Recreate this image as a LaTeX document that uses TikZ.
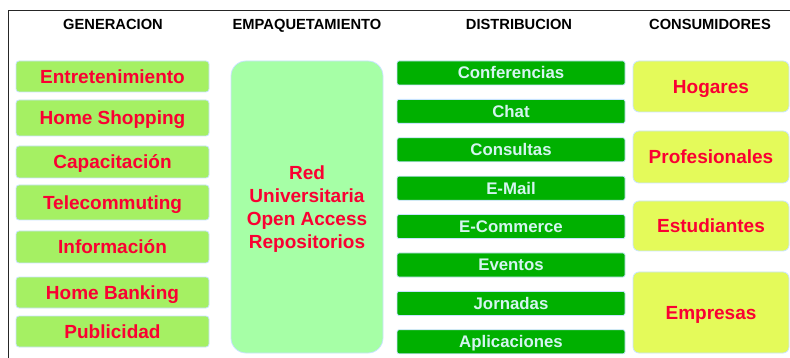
\documentclass[tikz,border=0pt]{standalone}
\usepackage{fontspec}
\setmainfont{Liberation Sans}
\usepackage{tikz}
\usetikzlibrary{positioning}

\definecolor{genfill}{RGB}{165,240,99}
\definecolor{pkgfill}{RGB}{166,255,166}
\definecolor{distfill}{RGB}{0,176,0}
\definecolor{consfill}{RGB}{228,250,90}
\definecolor{labelred}{RGB}{250,0,50}
\definecolor{distlabel}{RGB}{212,245,240}
\definecolor{edgeblue}{RGB}{200,228,255}

\tikzset{
    colhead/.style={font=\fontsize{14.7}{17}\selectfont\bfseries, text=black,
        inner sep=0pt, text height=10.5pt, text depth=0pt},
    anybox/.style={draw=edgeblue, line width=0.8pt, inner sep=0pt, align=center,
        font=\fontsize{19}{23}\selectfont\bfseries, text=labelred},
    oneline/.style={text height=13.6pt, text depth=0pt},
    genbox/.style={anybox, oneline, fill=genfill, rounded corners=3pt, minimum width=193pt},
    pkgbox/.style={anybox, fill=pkgfill, rounded corners=15pt,
        minimum width=152pt, minimum height=292pt},
    distbox/.style={anybox, fill=distfill, rounded corners=2pt, text=distlabel,
        text height=12pt, text depth=0pt,
        minimum width=228pt, minimum height=24pt, font=\fontsize{16.8}{20}\selectfont\bfseries},
    consbox/.style={anybox, oneline, fill=consfill, rounded corners=6pt, minimum width=156pt},
}

\begin{document}
\begin{tikzpicture}[x=1pt, y=-1pt]
    \useasboundingbox (0,0) rectangle (790,358);

    % frame (only top and left edges show)
    \draw[line width=1pt, black!85] (8,358) -- (8,11) -- (790,11);

    % column headings
    \node[colhead] (hgen)  at (113,24.5) {GENERACION};
    \node[colhead] (hpkg)  at (307,24.5) {EMPAQUETAMIENTO};
    \node[colhead] (hdist) at (519,24.5) {DISTRIBUCION};
    \node[colhead] (hcons) at (710,24.5) {CONSUMIDORES};

    % generacion
    \node[genbox, minimum height=31pt] (entret)  at (112.5,76.5)  {Entretenimiento};
    \node[genbox, minimum height=36pt] (shop)    at (112.5,118)   {Home Shopping};
    \node[genbox, minimum height=32pt] (capac)   at (112.5,162)   {Capacitación};
    \node[genbox, minimum height=35pt] (telecom) at (112.5,202.5) {Telecommuting};
    \node[genbox, minimum height=32pt] (inform)  at (112.5,247)   {Información};
    \node[genbox, minimum height=31pt] (bank)    at (112.5,292.5) {Home Banking};
    \node[genbox, minimum height=31pt] (public)  at (112.5,331.5) {Publicidad};

    % empaquetamiento (text sits a little low in the box)
    \node[pkgbox] (red) at (307,207) {};
    \node[font=\fontsize{19}{23}\selectfont\bfseries, text=labelred, align=center,
        inner sep=0pt] (redtxt) at ([yshift=-2pt]red.center)
        {Red\\Universitaria\\Open Access\\Repositorios};

    % distribucion
    \foreach \name [count=\i from 0] in {Conferencias, Chat, Consultas, E-Mail,
            E-Commerce, Eventos, Jornadas, Aplicaciones}
        \node[distbox] (dist\i) at (511,73+38.4*\i) {\name};

    % consumidores
    \node[consbox, minimum height=51pt] (hogares) at (711,86.5)  {Hogares};
    \node[consbox, minimum height=52pt] (profes)  at (711,157)   {Profesionales};
    \node[consbox, minimum height=50pt] (estud)   at (711,226)   {Estudiantes};
    \node[consbox, minimum height=81pt] (empres)  at (711,312.5) {Empresas};
\end{tikzpicture}
\end{document}
